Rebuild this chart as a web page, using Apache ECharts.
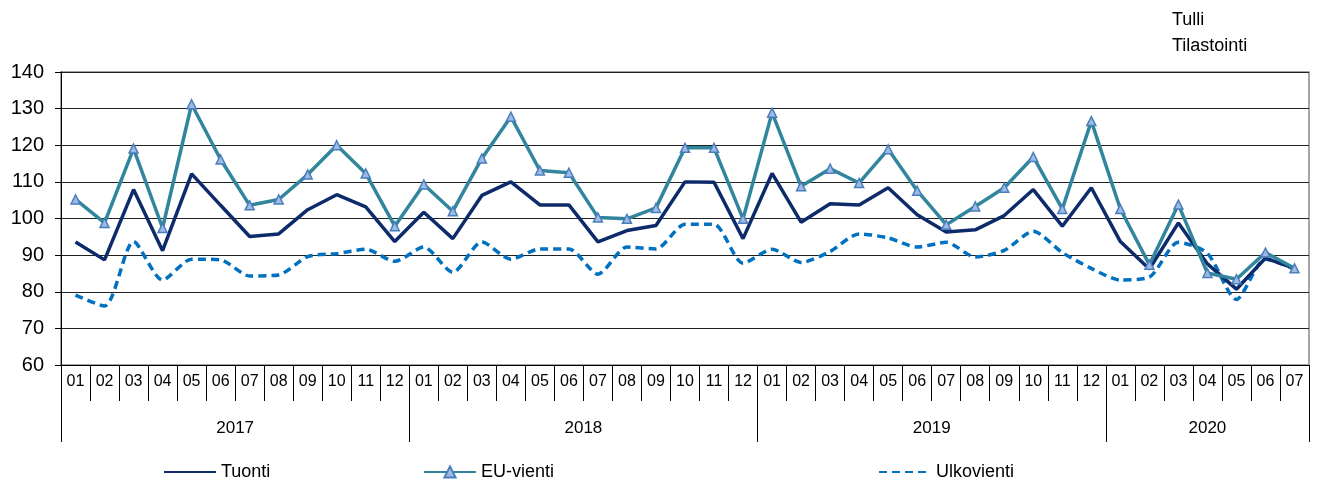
<!DOCTYPE html>
<html>
<head>
<meta charset="utf-8">
<script src="https://cdn.jsdelivr.net/npm/echarts@6/dist/echarts.min.js"></script>
<style>html,body{margin:0;padding:0;background:#fff;}#c{width:1317px;height:483px;}</style>
</head>
<body>
<div id="c"></div>
<script>
var years = ['2017', '2018', '2019', '2020'];
var monthsPerYear = [12, 12, 12, 7];
var monthLabels = ['01','02','03','04','05','06','07','08','09','10','11','12'];
var yTicks = [60, 70, 80, 90, 100, 110, 120, 130, 140];

var tuonti = [93.6, 88.7, 107.9, 91.2, 112.2, 103.6, 95.1, 95.8, 102.4, 106.5, 103.2, 93.7,
              101.7, 94.5, 106.3, 110.0, 103.7, 103.7, 93.6, 96.7, 98.1, 110.0, 109.9, 94.5,
              112.3, 99.0, 104.0, 103.7, 108.4, 101.0, 96.3, 96.9, 100.8, 107.9, 97.9, 108.4,
              93.7, 86.2, 98.8, 87.6, 80.7, 89.2, 86.4];
var euVienti = [105.2, 98.8, 119.1, 97.4, 131.2, 116.1, 103.6, 105.2, 112.0, 120.0, 112.3, 97.9,
                109.3, 102.0, 116.4, 127.8, 113.1, 112.5, 100.3, 99.9, 102.9, 119.3, 119.3, 99.9,
                128.9, 108.8, 113.6, 109.7, 118.9, 107.6, 98.3, 103.3, 108.4, 116.8, 102.6, 126.6,
                102.6, 87.4, 103.8, 85.1, 83.4, 90.7, 86.4];
var ulkoVienti = [79.1, 76.1, 93.7, 83.2, 88.9, 88.7, 84.3, 84.6, 89.6, 90.4, 91.6, 88.3,
                  92.2, 85.3, 93.6, 88.9, 91.7, 91.7, 84.8, 92.2, 91.7, 98.4, 98.4, 87.8,
                  91.6, 88.0, 91.0, 95.8, 94.7, 92.2, 93.5, 89.5, 91.3, 96.5, 90.7, 86.4,
                  83.2, 84.0, 93.5, 90.5, 77.9, 88.9, 86.2];

// build category list and year boundaries
var categories = [];
var yearBounds = [0];
var yearMids = [];
var acc = 0;
for (var y = 0; y < years.length; y++) {
  for (var m = 0; m < monthsPerYear[y]; m++) categories.push(years[y] + '-' + monthLabels[m]);
  yearMids.push(acc + monthsPerYear[y] / 2);
  acc += monthsPerYear[y];
  yearBounds.push(acc);
}
var total = acc;

var FONT = 'Liberation Sans, Arial, sans-serif';
var legendText = { fontFamily: FONT, fontSize: 18, color: '#000' };
var chart = echarts.init(document.getElementById('c'));
chart.setOption({
  animation: false,
  backgroundColor: '#fff',
  title: {
    text: 'Tulli\nTilastointi',
    left: 1167, top: 2,
    textStyle: { fontFamily: FONT, fontSize: 18, fontWeight: 'normal', color: '#000', lineHeight: 26 }
  },
  grid: { left: 61, right: 8, top: 72, bottom: 118, show: true, borderColor: '#888', borderWidth: 1.5 },
  legend: [
    { data: [{ name: 'Tuonti', itemStyle: { opacity: 0 } }], left: 158, top: 458, itemWidth: 52, itemHeight: 14, textStyle: legendText },
    { data: ['EU-vienti'], left: 418, top: 458, itemWidth: 52, itemHeight: 14, textStyle: legendText },
    { data: [{ name: 'Ulkovienti', itemStyle: { opacity: 0 } }], left: 873, top: 458, itemWidth: 52, itemHeight: 14, textStyle: legendText }
  ],
  xAxis: [
    {
      type: 'category', data: categories, boundaryGap: true, position: 'bottom',
      axisLine: { lineStyle: { color: '#000', width: 1 } },
      axisTick: { show: true, interval: 0, length: 36, lineStyle: { color: '#000' } },
      axisLabel: { interval: 0, margin: 9, fontFamily: FONT, fontSize: 16, color: '#000',
        formatter: function (v) { return v.split('-')[1]; } },
      splitLine: { show: false }
    },
    {
      type: 'value', min: 0, max: total, position: 'bottom', offset: 0,
      axisLine: { show: false },
      axisTick: { show: true, length: 77, customValues: yearBounds, lineStyle: { color: '#000' } },
      axisLabel: { margin: 55, fontFamily: FONT, fontSize: 17, color: '#000', customValues: yearMids,
        formatter: function (v) {
          for (var i = 0; i < yearMids.length; i++) if (Math.abs(yearMids[i] - v) < 0.01) return years[i];
          return '';
        } },
      splitLine: { show: false }
    }
  ],
  yAxis: {
    type: 'value', min: yTicks[0], max: yTicks[yTicks.length - 1], interval: 10,
    axisLine: { show: true, lineStyle: { color: '#000', width: 1 } },
    axisTick: { show: true, length: 6, lineStyle: { color: '#000' } },
    axisLabel: { margin: 17, fontFamily: FONT, fontSize: 20, color: '#000' },
    splitLine: { show: true, lineStyle: { color: '#222', width: 1 } }
  },
  series: [
    { name: 'Tuonti', type: 'line', data: tuonti, xAxisIndex: 0, symbol: 'none',
      lineStyle: { color: '#0d2b6b', width: 3.5 }, itemStyle: { color: '#0d2b6b' }, z: 3 },
    { name: 'EU-vienti', type: 'line', data: euVienti, xAxisIndex: 0, symbol: 'triangle', symbolSize: 9,
      lineStyle: { color: '#31859c', width: 3.5 },
      itemStyle: { color: '#9dbbe6', borderColor: '#4a7ebb', borderWidth: 1.5 }, z: 4 },
    { name: 'Ulkovienti', type: 'line', data: ulkoVienti, xAxisIndex: 0, symbol: 'none', smooth: 0.25,
      lineStyle: { color: '#0070c0', width: 3.5, type: [8, 5] }, itemStyle: { color: '#0070c0' }, z: 2 }
  ]
});
</script>
</body>
</html>
